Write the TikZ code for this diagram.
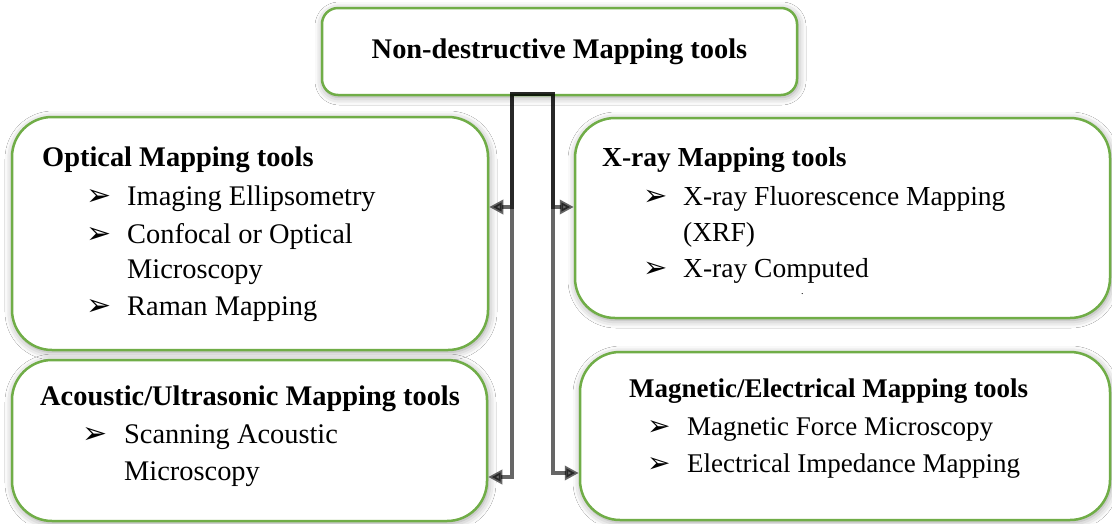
\documentclass[tikz,border=0pt]{standalone}
\usepackage{fontspec}
\setmainfont{Liberation Serif}
\newfontfamily\dingfont{DejaVu Sans}
\usetikzlibrary{shadows.blur,arrows.meta}
\definecolor{boxgreen}{HTML}{70AD47}
\tikzset{
  box/.style={draw=boxgreen, line width=2.5pt, fill=white, rounded corners=40pt, inner sep=0pt,
    blur shadow={shadow xshift=1pt, shadow yshift=-2pt, shadow blur radius=8pt, shadow opacity=40}},
  ttl/.style={anchor=base west, inner sep=0pt, font=\fontsize{#1}{32}\selectfont\bfseries},
  ttl/.default=28.4,
  itm/.style={anchor=base west, inner sep=0pt, font=\fontsize{#1}{32}\selectfont},
  itm/.default=28.4,
  bul/.style={anchor=base west, inner sep=0pt, font=\dingfont\fontsize{#1}{32}\selectfont},
  bul/.default=30,
  link/.style={draw=black, opacity=0.6, line width=3.4pt, -{Triangle[length=14pt,width=14pt]}},
}
\begin{document}
\begin{tikzpicture}[x=1pt,y=-1pt]
\useasboundingbox[fill=white] (0,0) rectangle (1112,523);

% boxes
\node[box, rounded corners=16pt, minimum width=475pt, minimum height=87pt,
      font=\fontsize{28.4}{32}\selectfont\bfseries] (top) at (559.5,51.5) {Non-destructive Mapping tools};
\node[box, minimum width=476pt, minimum height=233pt] (opt) at (250,233.5) {};
\node[box, minimum width=535pt, minimum height=200pt] (xray) at (842.5,218) {};
\node[box, minimum width=475pt, minimum height=161pt] (aco) at (249.5,440.5) {};
\node[box, minimum width=530pt, minimum height=168pt] (mag) at (845,436) {};

% optical
\node[ttl] (optT) at (42,166) {Optical Mapping tools};
\node[bul] (optb1) at (86,205) {➢};
\node[itm] (opt1) at (127,205) {Imaging Ellipsometry};
\node[bul] (optb2) at (86,243) {➢};
\node[itm] (opt2) at (127,243) {Confocal or Optical};
\node[itm] (opt3) at (127,278) {Microscopy};
\node[bul] (optb4) at (86,315) {➢};
\node[itm] (opt4) at (127,315) {Raman Mapping};

% x-ray
\node[ttl=27.5] (xrT) at (602,166) {X-ray Mapping tools};
\node[bul=29] (xrb1) at (643,205) {➢};
\node[itm=27.5] (xr1) at (683,205) {X-ray Fluorescence Mapping};
\node[itm=27.5] (xr2) at (683,241) {(XRF)};
\node[bul=29] (xrb3) at (643,277) {➢};
\node[itm=27.5] (xr3) at (683,277) {X-ray Computed};
\node[itm=10] (xrdot) at (801,294) {.};

% acoustic
\node[ttl] (acT) at (40,405) {Acoustic/Ultrasonic Mapping tools};
\node[bul] (acb1) at (82,443) {➢};
\node[itm] (ac1) at (124,443) {Scanning Acoustic};
\node[itm] (ac2) at (124,480) {Microscopy};

% magnetic
\node[ttl=27] (mgT) at (629,397) {Magnetic/Electrical Mapping tools};
\node[bul=28] (mgb1) at (647,435) {➢};
\node[itm=27] (mg1) at (687,435) {Magnetic Force Microscopy};
\node[bul=28] (mgb2) at (647,472) {➢};
\node[itm=27] (mg2) at (687,472) {Electrical Impedance Mapping};

% connectors
\coordinate (hub) at (532,94);
\coordinate (lx) at (512,94);
\coordinate (rx) at (553,94);
\draw[link] (hub) -- (lx) |- ([yshift=26.5pt]opt.east);
\draw[link] (hub) -- (lx) |- ([yshift=-36.5pt]aco.east);
\draw[link] (hub) -- (rx) |- ([yshift=11pt]xray.west);
\draw[link] (hub) -- (rx) |- ([yshift=-37pt]mag.west);
\end{tikzpicture}
\end{document}
